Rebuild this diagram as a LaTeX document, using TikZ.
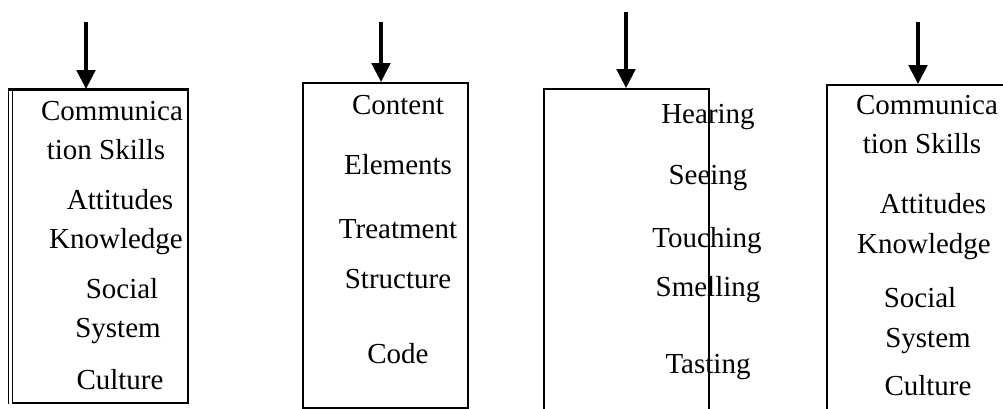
\documentclass[tikz,border=0pt]{standalone}
\usepackage{fontspec}
\setmainfont{Liberation Serif}
\usetikzlibrary{arrows.meta}
\tikzset{
  boxstyle/.style={draw=black, line width=1.6pt, rectangle, inner sep=0pt},
  lbl/.style={anchor=base, inner sep=0pt, font=\fontsize{29}{34}\selectfont},
  arr/.style={line width=4.5pt, -{Triangle[width=18pt,length=19pt]}},
}
\begin{document}
\begin{tikzpicture}[x=1pt,y=-1pt]
\useasboundingbox (0,0) rectangle (1003,409);
% boxes
\node[boxstyle, minimum width=175.5pt, minimum height=313pt] (b1) at (100.25,246.5) {};
\node[boxstyle, minimum width=165pt, minimum height=325pt] (b2) at (385.5,245.5) {};
\node[boxstyle, minimum width=165pt, minimum height=341pt] (b3) at (626.5,259.5) {};
\node[boxstyle, minimum width=203pt, minimum height=345pt] (b4) at (928.5,257.5) {};
% box 1 extras: double left edge, thick top
\draw[line width=1.4pt] ([xshift=-3.4pt]b1.north west) -- ([xshift=-3.4pt]b1.south west);
\draw[line width=3pt] ([xshift=-4.1pt]b1.north west) -- (b1.north east);
% arrow start points
\coordinate (a1) at (86,22);
\coordinate (a2) at (381,22);
\coordinate (a3) at (626,12);
\coordinate (a4) at (918,22);
\draw[arr] (a1) -- (a1 |- b1.north);
\draw[arr] (a2) -- (a2 |- b2.north);
\draw[arr] (a3) -- (a3 |- b3.north);
\draw[arr] (a4) -- (a4 |- b4.north);
% box 1 texts
\node[lbl] (t11) at (112,121) {Communica};
\node[lbl] (t12) at (106,159) {tion Skills};
\node[lbl] (t13) at (120,209) {Attitudes};
\node[lbl] (t14) at (116,248) {Knowledge};
\node[lbl] (t15) at (122,298) {Social};
\node[lbl] (t16) at (118,337) {System};
\node[lbl] (t17) at (120,389) {Culture};
% box 2 texts
\node[lbl] (t21) at (398,115) {Content};
\node[lbl] (t22) at (398,174) {Elements};
\node[lbl] (t23) at (398,238) {Treatment};
\node[lbl] (t24) at (398,288) {Structure};
\node[lbl] (t25) at (398,363) {Code};
% box 3 texts
\node[lbl] (t31) at (708,124) {Hearing};
\node[lbl] (t32) at (708,184) {Seeing};
\node[lbl] (t33) at (707,247) {Touching};
\node[lbl] (t34) at (708,296) {Smelling};
\node[lbl] (t35) at (708,373) {Tasting};
% box 4 texts
\node[lbl] (t41) at (927,115) {Communica};
\node[lbl] (t42) at (922,153) {tion Skills};
\node[lbl] (t43) at (933,213) {Attitudes};
\node[lbl] (t44) at (924,253) {Knowledge};
\node[lbl] (t45) at (920,307) {Social};
\node[lbl] (t46) at (928,347) {System};
\node[lbl] (t47) at (928,395) {Culture};
\end{tikzpicture}
\end{document}
